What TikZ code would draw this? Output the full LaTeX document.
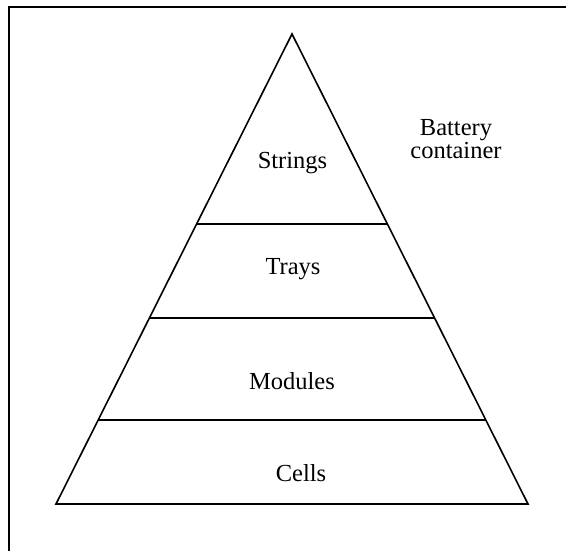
\documentclass[tikz,border=0pt]{standalone}
\usepackage{fontspec}
\setmainfont{Liberation Serif}
\usetikzlibrary{calc}
\begin{document}
\begin{tikzpicture}[x=1pt,y=-1pt,
  edge/.style={line width=1.6pt, line join=miter},
  framel/.style={line width=2.4pt},
  lbl/.style={font=\fontsize{24.5}{28}\selectfont, inner sep=0pt, anchor=center}]
\useasboundingbox (0,0) rectangle (566,550);
% frame (clipped: only left and top visible)
\coordinate (fbl) at (9,551);
\coordinate (ftl) at (9,7);
\coordinate (ftr) at (567,7);
\draw[framel] (fbl) -- (ftl) -- (ftr);
% pyramid
\coordinate (apex) at (292,34);
\coordinate (bl) at (56,504);
\coordinate (br) at (528,504);
\draw[edge] (apex) -- (bl) -- (br) -- cycle;
\coordinate (l1) at ($(apex)!0.4043!(bl)$);
\coordinate (r1) at ($(apex)!0.4043!(br)$);
\coordinate (l2) at ($(apex)!0.6043!(bl)$);
\coordinate (r2) at ($(apex)!0.6043!(br)$);
\coordinate (l3) at ($(apex)!0.8213!(bl)$);
\coordinate (r3) at ($(apex)!0.8213!(br)$);
\draw[edge] (l1) -- (r1);
\draw[edge] (l2) -- (r2);
\draw[edge] (l3) -- (r3);
% labels
\node[lbl] (strings) at (292.5,163) {Strings};
\node[lbl] (trays) at (293,269) {Trays};
\node[lbl] (modules) at (292,381) {Modules};
\node[lbl] (cells) at (301,473) {Cells};
\node[lbl, align=center, font=\fontsize{24.5}{23}\selectfont] (container) at (456,139) {Battery\\container};
\end{tikzpicture}
\end{document}
